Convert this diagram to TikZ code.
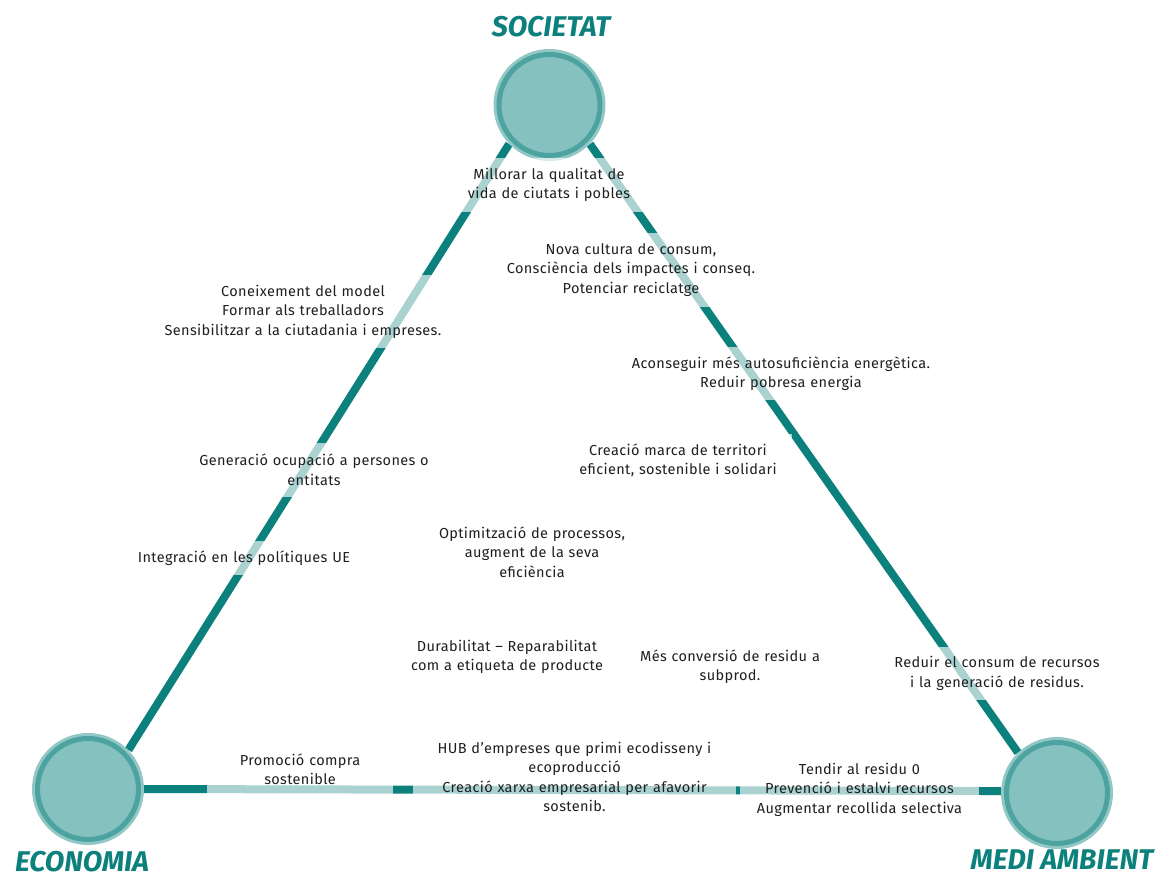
\documentclass[tikz,border=0pt]{standalone}
\usepackage{fontspec}
\setmainfont{Fira Sans}
\newfontfamily\lblfont[LetterSpace=2.5]{Fira Sans}
\usetikzlibrary{backgrounds}
\definecolor{tealdark}{HTML}{0B807C}
\definecolor{ringteal}{HTML}{4DA3A0}
\definecolor{discteal}{HTML}{85C1BF}

\begin{document}
\begin{tikzpicture}[x=1pt,y=-1pt,
  pole/.style={circle,minimum size=112pt,inner sep=0pt,fill=discteal!90!white},
  ring/.style={circle,minimum size=101pt,inner sep=0pt,draw=ringteal,line width=5pt,fill=discteal},
  title/.style={text=tealdark,font=\fontsize{28.5}{30}\selectfont\bfseries\itshape},
  link/.style={draw=tealdark,line width=8pt},
  lbl/.style={fill=white,fill opacity=0.65,text opacity=1,text=black!88,inner sep=0pt,
    align=center,font=\lblfont\fontsize{14.5}{19.5}\selectfont}]
  \useasboundingbox (0,0) rectangle (1160,878);

  % the three poles
  \node[pole] (soc) at (549.5,105) {};
  \node[ring] (socR) at (soc) {};
  \node[pole] (eco) at (88,789) {};
  \node[ring] (ecoR) at (eco) {};
  \node[pole] (med) at (1057,793) {};
  \node[ring] (medR) at (med) {};

  \node[title] (socT) at (551,27) {SOCIETAT};
  \node[title] (ecoT) at (82,862) {ECONOMIA};
  \node[title] (medT) at (1062,860) {MEDI AMBIENT};

  % sides of the triangle
  \begin{scope}[on background layer]
    \draw[link] (eco.44) -- (soc.224);
    \draw[link] (soc.-44) -- (med.134);
    \draw[link] (eco.0) -- (med.178);
  \end{scope}

  % labels
  \node[lbl,text width=200pt,minimum height=54pt] (millorar) at (549,185)
    {Millorar la qualitat de\\vida de ciutats i pobles};
  \node[lbl,text width=260pt,minimum height=74pt] (nova) at (631,270)
    {Nova cultura de consum,\\Consciència dels impactes i conseq.\\Potenciar reciclatge};
  \node[lbl,text width=320pt,minimum height=53pt] (acons) at (781,373.5)
    {Aconseguir més autosuficiència energètica.\\Reduir pobresa energia};
  \node[lbl,text width=228pt,minimum height=54pt] (marca) at (678,460.5)
    {Creació marca de territori\\eficient, sostenible i solidari};
  \node[lbl,text width=230pt,minimum height=53pt] (reduir) at (997,673.5)
    {Reduir el consum de recursos\\i la generació de residus.};
  \node[lbl,text width=300pt,minimum height=73pt] (conei) at (303,311.5)
    {Coneixement del model\\Formar als treballadors\\Sensibilitzar a la ciutadania i empreses.};
  \node[lbl,text width=250pt,minimum height=54pt] (gener) at (314,470)
    {Generació ocupació a persones o\\entitats};
  \node[lbl,text width=230pt,minimum height=34pt] (integ) at (244,558)
    {Integració en les polítiques UE};
  \node[lbl,text width=220pt,minimum height=74pt] (optim) at (532,552)
    {Optimització de processos,\\augment de la seva\\eficiència};
  \node[lbl,text width=210pt,minimum height=54pt] (durab) at (507,657)
    {Durabilitat – Reparabilitat\\com a etiqueta de producte};
  \node[lbl,text width=200pt,minimum height=54pt] (conv) at (730,666.5)
    {Més conversió de residu a\\subprod.};
  \node[lbl,text width=186pt,minimum height=54pt] (promo) at (300,769.5)
    {Promoció compra\\sostenible};
  \node[lbl,text width=323pt,minimum height=93pt] (hub) at (574.5,777)
    {HUB d’empreses que primi ecodisseny i\\ecoproducció\\Creació xarxa empresarial per afavorir\\sostenib.};
  \node[lbl,text width=239pt,minimum height=73pt] (tendir) at (859.5,789.5)
    {Tendir al residu 0\\Prevenció i estalvi recursos\\Augmentar recollida selectiva};
\end{tikzpicture}
\end{document}
